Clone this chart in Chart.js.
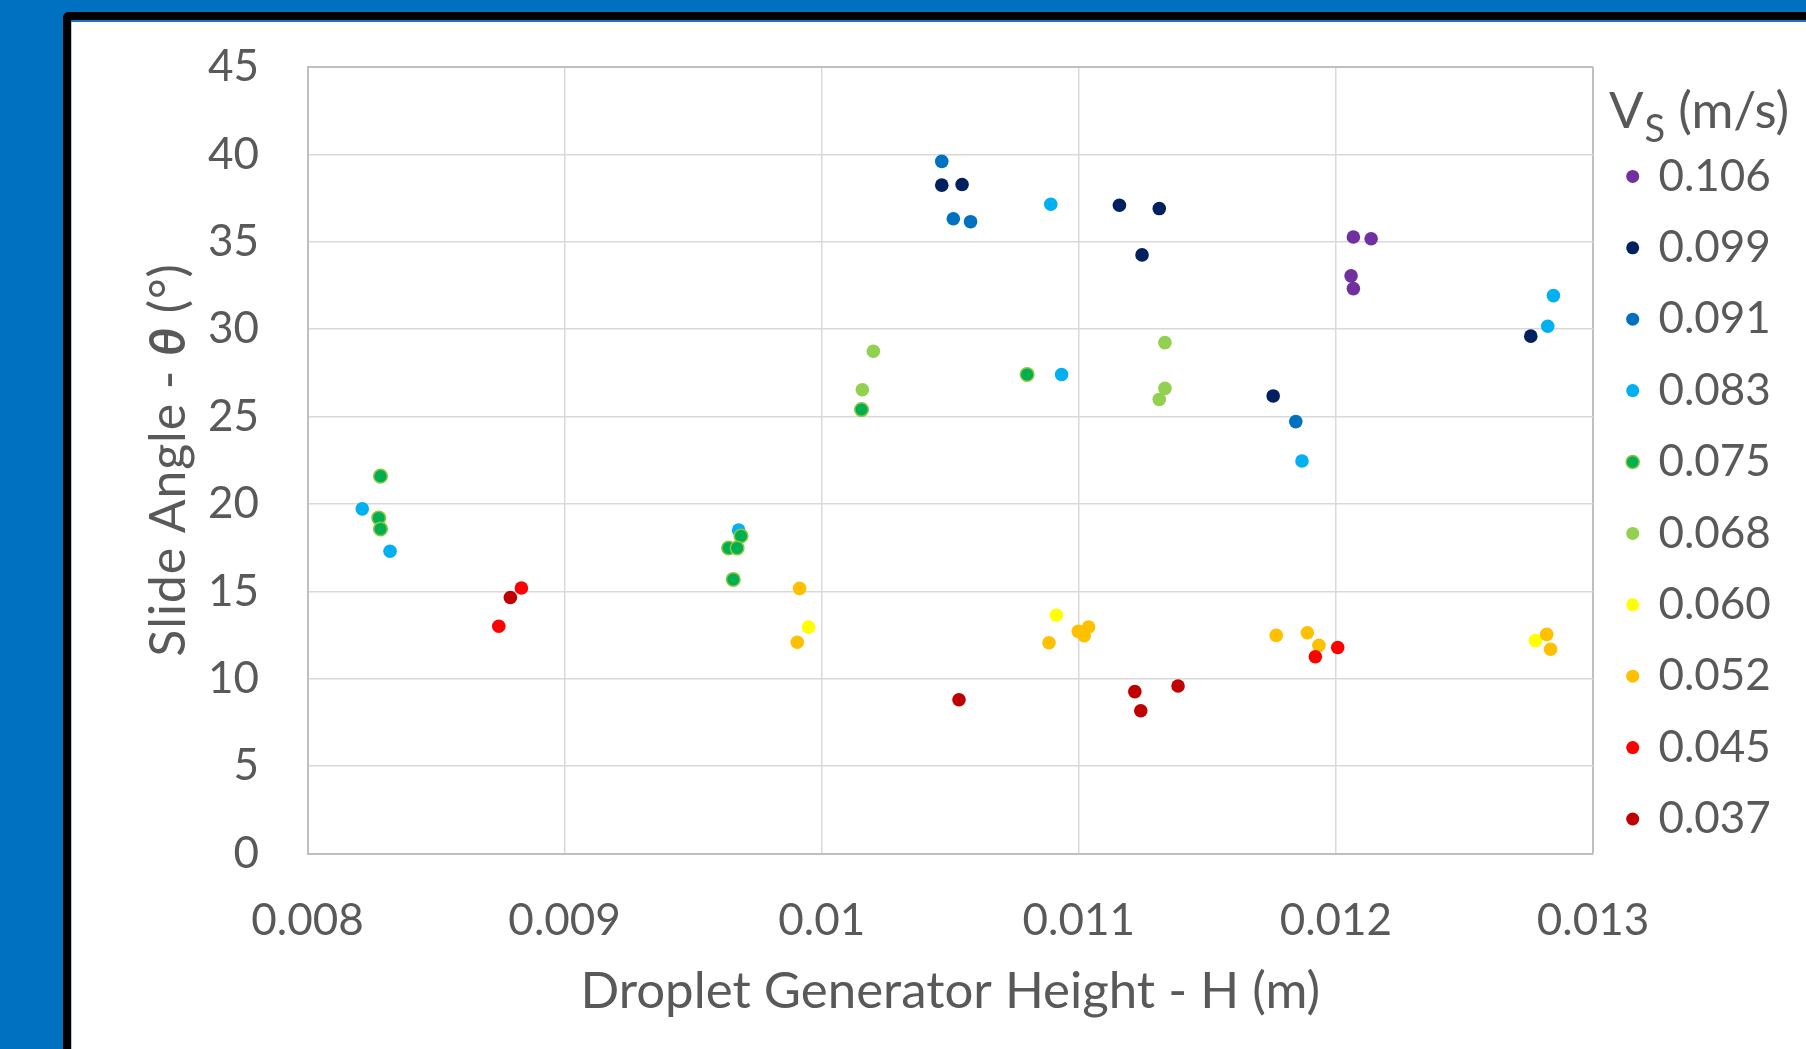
<!DOCTYPE html>
<html>
<head>
<meta charset="utf-8">
<title>Slide Angle vs Droplet Generator Height</title>
<script src="https://cdn.jsdelivr.net/npm/chart.js@4.4.1/dist/chart.umd.min.js"></script>
<style>
  html, body { margin: 0; padding: 0; width: 1806px; height: 1049px; overflow: hidden; background: #0070C0; }
  #frame {
    position: absolute; left: 63px; top: 12px; width: 1800px; height: 1100px;
    background: #ffffff;
    border-left: 8.5px solid #000; border-top: 8px solid #000;
    border-top-left-radius: 6px;
    box-shadow: inset 0 2px 0 #1a73c4, inset 1px 0 0 #a9c9e8;
  }
  #chart { position: absolute; left: 0; top: 0; }
</style>
</head>
<body>
<div id="frame"></div>
<canvas id="chart" width="1806" height="1049"></canvas>
<script>
// Droplet sliding speed groups (legend entries, m/s)
const SPEED_LABELS = ['0.106', '0.099', '0.091', '0.083', '0.075', '0.068', '0.060', '0.052', '0.045', '0.037'];

// Droplet generator height H (m) and slide angle theta (deg) per speed group
const H_106 = [0.012068, 0.012137, 0.012059, 0.012068];
const THETA_106 = [35.27, 35.17, 33.05, 32.32];

const H_099 = [0.010467, 0.010546, 0.011158, 0.011313, 0.011246, 0.011756, 0.012758];
const THETA_099 = [38.24, 38.28, 37.09, 36.90, 34.25, 26.18, 29.60];

const H_091 = [0.010467, 0.010512, 0.010579, 0.011844];
const THETA_091 = [39.60, 36.32, 36.15, 24.71];

const H_083 = [0.008213, 0.008321, 0.009677, 0.010891, 0.010933, 0.011868, 0.012824, 0.012846];
const THETA_083 = [19.72, 17.29, 18.50, 37.15, 27.41, 22.46, 30.17, 31.92];

const H_075 = [0.008284, 0.008277, 0.008284, 0.009686, 0.009638, 0.009671, 0.009656, 0.010155, 0.010799];
const THETA_075 = [21.59, 19.20, 18.57, 18.17, 17.48, 17.48, 15.68, 25.40, 27.41];

const H_068 = [0.010201, 0.010158, 0.011335, 0.011335, 0.011313];
const THETA_068 = [28.74, 26.53, 29.23, 26.61, 25.98];

const H_060 = [0.009949, 0.010913, 0.012776];
const THETA_060 = [12.95, 13.63, 12.18];

const H_052 = [0.009914, 0.009905, 0.010884, 0.010998, 0.011038, 0.011021, 0.011768, 0.011889, 0.011934, 0.012820, 0.012835];
const THETA_052 = [15.17, 12.09, 12.06, 12.71, 12.96, 12.46, 12.48, 12.63, 11.91, 12.54, 11.69];

const H_045 = [0.008744, 0.008832, 0.011920, 0.012007];
const THETA_045 = [13.00, 15.19, 11.26, 11.79];

const H_037 = [0.008789, 0.010534, 0.011218, 0.011241, 0.011386];
const THETA_037 = [14.65, 8.80, 9.26, 8.17, 9.58];

const H_SERIES = [H_106, H_099, H_091, H_083, H_075, H_068, H_060, H_052, H_045, H_037];
const THETA_SERIES = [THETA_106, THETA_099, THETA_091, THETA_083, THETA_075, THETA_068, THETA_060, THETA_052, THETA_045, THETA_037];

// Axis ticks
const X_TICKS = [0.008, 0.009, 0.010, 0.011, 0.012, 0.013];
const X_TICK_LABELS = ['0.008', '0.009', '0.01', '0.011', '0.012', '0.013'];
const Y_TICKS = [0, 5, 10, 15, 20, 25, 30, 35, 40, 45];
const Y_TICK_LABELS = ['0', '5', '10', '15', '20', '25', '30', '35', '40', '45'];

// Styling
const SERIES_COLORS = ['#7030A0', '#002060', '#0070C0', '#00B0F0', '#00B050', '#92D050', '#FFFF00', '#FFC000', '#FF0000', '#C00000'];
const SERIES_BORDERS = [null, null, null, null, '#8CC63F', null, null, null, null, null];
const TEXT_COLOR = '#595959';
const GRID_COLOR = '#D9D9D9';
const FRAME_COLOR = '#BFBFBF';
const FONT = 'Lato';

const X_TITLE = 'Droplet Generator Height - H (m)';
const Y_TITLE_PARTS = [
  { text: 'Slide Angle - ', style: 'normal 400' },
  { text: '\u03B8', style: 'italic 700' },
  { text: ' (\u00B0)', style: 'normal 400' }
];
const Y_TITLE_SIZE = 50;
const Y_TITLE_LENGTH = 393;
const LEGEND_TITLE = { main: 'V', sub: 'S', rest: ' (m/s)' };

const LEGEND_WIDTH = 213;
const LEGEND_SHIFT = 8.6;

const datasets = SPEED_LABELS.map((label, i) => ({
  label: label,
  data: H_SERIES[i].map((h, k) => ({ x: h, y: THETA_SERIES[i][k] })),
  backgroundColor: SERIES_COLORS[i],
  borderColor: SERIES_BORDERS[i] || SERIES_COLORS[i],
  borderWidth: SERIES_BORDERS[i] ? 1.5 : 0,
  pointRadius: 6.8,
  pointStyle: 'circle',
  order: SPEED_LABELS.length - i
}));

// Extra drawing: rich-text axis/legend titles and legend placement
const decorations = {
  id: 'decorations',
  beforeLayout(chart) {
    const lg = chart.legend;
    if (lg && !lg._fixedWidth) {
      const fit = lg.fit;
      lg.fit = function () { fit.call(this); this.width = LEGEND_WIDTH; };
      lg._fixedWidth = true;
    }
  },
  afterLayout(chart) {
    const lg = chart.legend;
    if (lg) {
      lg.left = chart.chartArea.right + LEGEND_SHIFT;
      lg.right = lg.left + lg.width;
    }
  },
  afterDraw(chart) {
    const ctx = chart.ctx;
    const area = chart.chartArea;
    ctx.save();
    ctx.fillStyle = TEXT_COLOR;
    ctx.textBaseline = 'alphabetic';
    ctx.textAlign = 'left';

    // Vertical axis title with bold-italic theta, spread to its full length
    let natural = 0;
    let chars = 0;
    Y_TITLE_PARTS.forEach(p => {
      ctx.font = `${p.style} ${Y_TITLE_SIZE}px ${FONT}`;
      natural += ctx.measureText(p.text).width;
      chars += p.text.length;
    });
    const spacing = Math.max(0, (Y_TITLE_LENGTH - natural) / chars);
    ctx.save();
    ctx.translate(185, (area.top + area.bottom) / 2);
    ctx.rotate(-Math.PI / 2);
    let x = -Y_TITLE_LENGTH / 2;
    Y_TITLE_PARTS.forEach(p => {
      ctx.font = `${p.style} ${Y_TITLE_SIZE}px ${FONT}`;
      for (const ch of p.text) {
        ctx.fillText(ch, x, 0);
        x += ctx.measureText(ch).width + spacing;
      }
    });
    ctx.restore();

    // Legend title with subscript
    let lx = area.right + 16;
    ctx.font = `400 51px ${FONT}`;
    ctx.fillText(LEGEND_TITLE.main, lx, 128.3);
    lx += ctx.measureText(LEGEND_TITLE.main).width + 1;
    ctx.font = `400 38px ${FONT}`;
    ctx.fillText(LEGEND_TITLE.sub, lx, 141.7);
    lx += ctx.measureText(LEGEND_TITLE.sub).width;
    ctx.font = `400 51px ${FONT}`;
    ctx.fillText(LEGEND_TITLE.rest, lx, 128.3);
    ctx.restore();
  }
};

function draw() {
  new Chart(document.getElementById('chart'), {
    type: 'scatter',
    data: { datasets },
    plugins: [decorations],
    options: {
      responsive: false,
      animation: false,
      events: [],
      layout: { padding: { left: 0, top: 67, right: 0, bottom: 0 } },
      plugins: {
        tooltip: { enabled: false },
        legend: {
          position: 'right',
          align: 'start',
          title: { display: true, text: ' ', font: { family: FONT, size: 60, lineHeight: 1 }, padding: 0 },
          labels: {
            usePointStyle: true,
            boxWidth: 7.4,
            boxHeight: 9.2,
            padding: 27.4,
            color: TEXT_COLOR,
            font: { family: FONT, size: 44 },
            sort: (a, b) => a.datasetIndex - b.datasetIndex
          }
        }
      },
      scales: {
        x: {
          type: 'linear',
          min: X_TICKS[0],
          max: X_TICKS[X_TICKS.length - 1],
          afterBuildTicks: (scale) => { scale.ticks = X_TICKS.map(v => ({ value: v })); },
          afterFit: (scale) => { scale.height = 195.5; },
          ticks: {
            padding: 40.5,
            color: TEXT_COLOR,
            font: { family: FONT, size: 44 },
            maxRotation: 0,
            autoSkip: false,
            callback: (value, index) => X_TICK_LABELS[index]
          },
          grid: {
            drawTicks: false,
            color: (c) => (c.index === X_TICKS.length - 1 ? FRAME_COLOR : GRID_COLOR),
            lineWidth: (c) => (c.index === X_TICKS.length - 1 ? 2 : 1.5)
          },
          border: { display: true, color: FRAME_COLOR, width: 2 },
          title: {
            display: true,
            text: X_TITLE,
            color: TEXT_COLOR,
            font: { family: FONT, size: 51 },
            padding: { top: 0, bottom: 27 }
          }
        },
        y: {
          type: 'linear',
          min: Y_TICKS[0],
          max: Y_TICKS[Y_TICKS.length - 1],
          afterBuildTicks: (scale) => { scale.ticks = Y_TICKS.map(v => ({ value: v })); },
          afterFit: (scale) => {
            scale.width = 307.5;
            scale.paddingTop = 0;
            scale.paddingBottom = 0;
          },
          ticks: {
            padding: 48.5,
            color: TEXT_COLOR,
            font: { family: FONT, size: 44 },
            autoSkip: false,
            callback: (value, index) => Y_TICK_LABELS[index]
          },
          grid: {
            drawTicks: false,
            color: (c) => (c.index === Y_TICKS.length - 1 ? FRAME_COLOR : GRID_COLOR),
            lineWidth: (c) => (c.index === Y_TICKS.length - 1 ? 2 : 1.5)
          },
          border: { display: true, color: FRAME_COLOR, width: 2 },
          title: { display: false }
        }
      }
    }
  });
}

if (document.fonts && document.fonts.load) {
  Promise.all([
    document.fonts.load(`400 44px ${FONT}`),
    document.fonts.load(`italic 700 48px ${FONT}`)
  ]).then(draw, draw);
} else {
  draw();
}
</script>
</body>
</html>
